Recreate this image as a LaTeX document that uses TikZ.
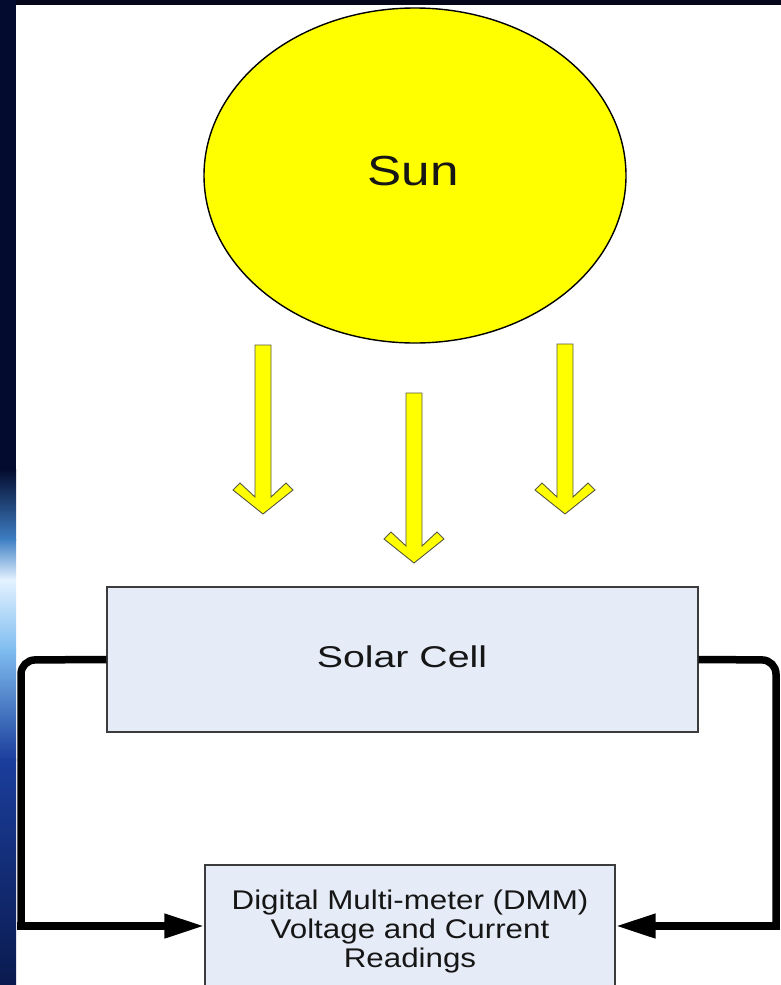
\documentclass[tikz,border=0pt]{standalone}
\usepackage{fontspec}
\setmainfont{Liberation Sans}
\usetikzlibrary{arrows.meta,shapes.geometric}
\definecolor{sunyellow}{HTML}{FFFF00}
\definecolor{boxfill}{HTML}{E6ECF7}
\definecolor{boxline}{HTML}{3C3C3C}
\definecolor{rayline}{HTML}{5A5A40}
\definecolor{navy}{HTML}{030B2E}
\definecolor{topbar}{HTML}{04081A}
\definecolor{midblue}{HTML}{3F7FC4}
\definecolor{paleblue}{HTML}{E4F2FF}
\definecolor{skyblue}{HTML}{7FBDF0}
\definecolor{deepblue}{HTML}{1B3E9C}
\definecolor{txt}{HTML}{161616}
\tikzset{
  sunshape/.style={ellipse, draw=black, line width=1.4pt, fill=sunyellow, minimum width=422pt, minimum height=335pt, inner sep=0pt},
  blockbox/.style={rectangle, draw=boxline, line width=1.4pt, fill=boxfill, inner sep=0pt},
  wire/.style={draw=black, line width=7.5pt},
  raystyle/.style={fill=sunyellow, draw=rayline, line width=0.9pt, line join=miter},
  labeltext/.style={text=txt, inner sep=0pt}
}
\begin{document}
\begin{tikzpicture}[x=1pt,y=-1pt]
\useasboundingbox (0,0) rectangle (781,985);
% background
\fill[white] (0,0) rectangle (781,985);
\fill[topbar] (0,0) rectangle (781,5);
\fill[navy] (0,0) rectangle (16,470);
\shade[top color=navy, bottom color=midblue] (0,469) rectangle (16,540);
\shade[top color=midblue, bottom color=paleblue] (0,539) rectangle (16,580);
\shade[top color=paleblue, bottom color=skyblue] (0,579) rectangle (16,650);
\shade[top color=skyblue, bottom color=deepblue] (0,649) rectangle (16,760);
\shade[top color=deepblue, bottom color=navy!70!deepblue] (0,759) rectangle (16,985);

% sun
\node[sunshape] (sun) at (415,175.5) {};
\node[labeltext, font=\fontsize{42}{48}\selectfont] (sunlabel) at (413,171) {\scalebox{1.22}[1]{Sun}};

% rays
\foreach \cx/\tp/\tip in {263/345/514, 414/393/563, 565/344/514}{
  \draw[raystyle] (\cx-8,\tp) -- (\cx+8,\tp) -- (\cx+8,\tip-17) -- (\cx+23,\tip-31)
    -- (\cx+30,\tip-24) -- (\cx,\tip) -- (\cx-30,\tip-24) -- (\cx-23,\tip-31)
    -- (\cx-8,\tip-17) -- cycle;
}

% solar cell
\node[blockbox, minimum width=591pt, minimum height=145pt] (solar) at (402.5,659.5) {};
\node[labeltext, font=\fontsize{30}{36}\selectfont] (solarlabel) at (402,657) {\scalebox{1.31}[1]{Solar Cell}};

% DMM
\node[blockbox, minimum width=410pt, minimum height=122pt] (dmm) at (410,926) {};
\node[labeltext, font=\fontsize{27}{29}\selectfont, align=center] (dmmlabel) at (410,932)
  {\scalebox{1.16}[1]{Digital Multi-meter (DMM)}\\\scalebox{1.16}[1]{Voltage and Current}\\\scalebox{1.16}[1]{Readings}};

% wires
\coordinate (ltop) at (21,660);
\coordinate (lbend) at (21,926);
\coordinate (rtop) at (776,660);
\coordinate (rbend) at (776,926);
\draw[wire, rounded corners=14pt] (solar.west) -- (ltop) -- (lbend);
\draw[wire, line cap=rect, -{Triangle[length=40pt,width=23pt]}] (lbend) -- (dmm.west);
\draw[wire, rounded corners=14pt] (solar.east) -- (rtop) -- (rbend);
\draw[wire, line cap=rect, -{Triangle[length=40pt,width=23pt]}] (rbend) -- (dmm.east);
\end{tikzpicture}
\end{document}
